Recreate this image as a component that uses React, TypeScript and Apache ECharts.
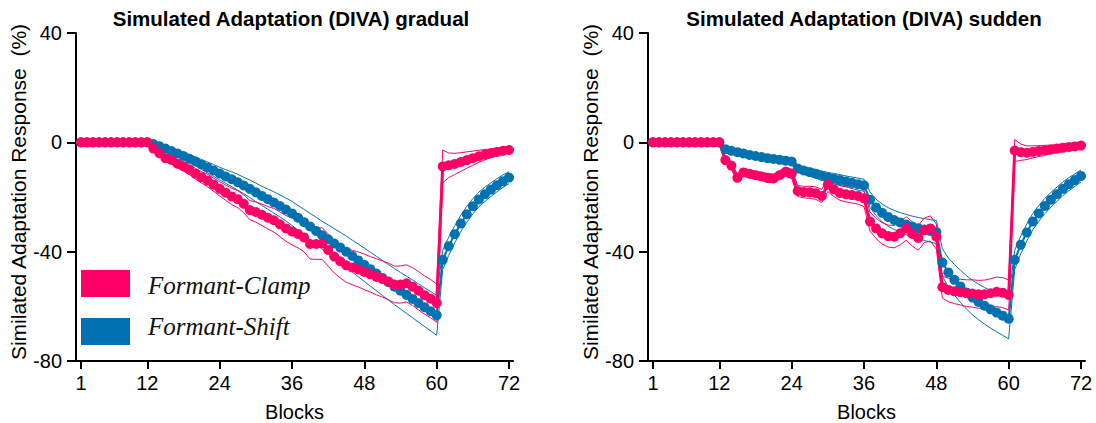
import { useEffect, useRef } from "react";
import * as echarts from "echarts";

const blocks: number[] = Array.from({ length: 72 }, (_, i) => i + 1);
const xTickValues = [1, 12, 24, 36, 48, 60, 72];
const titles = ["Simulated Adaptation (DIVA) gradual", "Simulated Adaptation (DIVA) sudden"];
const yAxisName = "Similated Adaptation Response  (%)";
const xAxisName = "Blocks";
const legendNames = ["Formant-Clamp", "Formant-Shift"];

const Z12 = [0, 0, 0, 0, 0, 0, 0, 0, 0, 0, 0, 0];

// gradual — Formant-Shift (blue) mean
const gradualShift = [
  ...Z12,
  -0.6, -1.4, -2.3, -3.2, -4.1, -5.0, -6.0, -7.0, -8.1, -9.2, -10.3, -11.4,
  -12.5, -13.5, -14.6, -15.8, -17.0, -18.3, -19.6, -20.8, -22.0, -23.3, -24.6, -26.0,
  -27.6, -29.2, -30.8, -32.4, -34.0, -35.5, -37.0, -38.5, -40.0, -41.6, -43.2, -44.8,
  -46.4, -48.0, -49.6, -51.2, -52.8, -54.3, -55.8, -57.3, -58.8, -60.3, -61.8, -63.3,
  -43.0, -38.0, -33.6, -29.7, -26.3, -23.4, -20.9, -19.0, -17.3, -15.7, -14.2, -12.9,
];
const gradualShiftSd = [
  ...Z12,
  0.3, 0.5, 0.7, 0.9, 1.1, 1.3, 1.5, 1.6, 1.8, 2.0, 2.2, 2.3,
  2.5, 2.7, 2.9, 3.0, 3.2, 3.4, 3.5, 3.7, 3.9, 4.0, 4.2, 4.4,
  4.5, 4.7, 4.8, 5.0, 5.1, 5.3, 5.4, 5.6, 5.7, 5.8, 6.0, 6.1,
  6.2, 6.3, 6.4, 6.5, 6.6, 6.7, 6.8, 6.9, 7.0, 7.1, 7.2, 7.3,
  3.5, 3.3, 3.1, 3.0, 2.9, 2.8, 2.7, 2.6, 2.5, 2.4, 2.3, 2.2,
];
// gradual — Formant-Clamp (pink) mean
const gradualClamp = [
  ...Z12,
  -2.3, -4.0, -5.8, -6.4, -7.8, -8.8, -10.0, -11.5, -12.8, -14.0, -15.5, -17.0,
  -18.4, -19.8, -20.8, -22.5, -24.8, -25.5, -26.5, -27.6, -28.5, -30.0, -31.5, -32.6,
  -33.5, -34.8, -37.2, -37.2, -37.0, -39.4, -41.8, -43.5, -45.0, -45.8, -46.5, -47.4,
  -48.3, -49.2, -50.0, -50.9, -52.0, -52.0, -51.6, -52.8, -54.3, -55.9, -57.2, -58.8,
  -8.8, -8.4, -7.9, -7.2, -6.5, -5.8, -5.1, -4.5, -4.0, -3.5, -3.1, -2.8,
];
const gradualClampSd = [
  ...Z12,
  0.8, 1.0, 1.2, 1.4, 1.5, 1.7, 1.8, 2.0, 2.1, 2.3, 2.4, 2.6,
  2.8, 3.0, 3.1, 3.3, 3.5, 3.7, 3.9, 4.1, 4.3, 4.5, 4.7, 4.9,
  5.1, 5.3, 5.5, 5.6, 5.8, 5.9, 6.0, 6.1, 6.2, 6.3, 6.4, 6.5,
  6.5, 6.6, 6.6, 6.7, 6.7, 6.8, 6.8, 6.9, 7.0, 7.0, 7.0, 7.0,
  6.0, 4.5, 3.9, 3.4, 3.0, 2.6, 2.2, 1.9, 1.6, 1.4, 1.2, 1.0,
];

// sudden — Formant-Shift (blue) mean
const suddenShift = [
  ...Z12,
  -2.5, -3.1, -3.6, -4.1, -4.6, -5.0, -5.4, -5.8, -6.1, -6.4, -6.7, -7.0,
  -9.6, -10.3, -10.9, -11.5, -12.2, -12.8, -13.3, -13.8, -14.3, -14.8, -15.3, -15.7,
  -21.0, -23.8, -25.8, -27.3, -28.4, -29.3, -30.1, -30.8, -31.4, -31.9, -32.4, -32.8,
  -44.0, -47.6, -50.3, -52.7, -54.9, -56.8, -58.4, -59.8, -61.1, -62.3, -63.4, -64.5,
  -43.0, -37.5, -33.0, -29.0, -26.0, -23.3, -21.0, -19.0, -17.0, -15.3, -13.8, -12.3,
];
const suddenShiftSd = [
  ...Z12,
  0.6, 0.7, 0.8, 0.8, 0.9, 0.9, 1.0, 1.0, 1.0, 1.1, 1.1, 1.1,
  1.3, 1.4, 1.5, 1.6, 1.7, 1.8, 1.9, 2.0, 2.0, 2.1, 2.2, 2.2,
  2.8, 3.0, 3.2, 3.4, 3.5, 3.6, 3.7, 3.8, 3.9, 4.0, 4.1, 4.2,
  5.0, 5.3, 5.6, 5.9, 6.1, 6.3, 6.5, 6.7, 6.9, 7.0, 7.2, 7.4,
  3.5, 3.3, 3.1, 3.0, 2.9, 2.8, 2.7, 2.6, 2.5, 2.4, 2.3, 2.2,
];
// sudden — Formant-Clamp (pink) mean
const suddenClamp = [
  ...Z12,
  -6.5, -8.5, -13.0, -11.0, -11.5, -12.0, -12.5, -13.0, -13.2, -12.0, -10.8, -11.5,
  -17.8, -18.2, -18.3, -18.6, -19.6, -15.5, -17.2, -18.5, -19.0, -19.3, -19.6, -20.5,
  -29.0, -31.5, -33.3, -34.3, -34.5, -33.3, -31.5, -33.5, -35.0, -32.2, -31.5, -34.5,
  -53.0, -54.0, -54.5, -54.8, -55.2, -55.3, -55.6, -55.6, -55.2, -54.7, -55.0, -55.8,
  -3.0, -3.6, -3.8, -3.5, -3.2, -2.9, -2.6, -2.3, -2.0, -1.7, -1.5, -1.2,
];
const suddenClampSd = [
  ...Z12,
  1.2, 1.3, 1.4, 1.4, 1.5, 1.5, 1.5, 1.6, 1.6, 1.6, 1.7, 1.7,
  2.0, 2.1, 2.2, 2.3, 2.4, 2.5, 2.6, 2.7, 2.8, 2.9, 3.0, 3.0,
  3.5, 3.7, 3.9, 4.0, 4.1, 4.2, 4.3, 4.4, 4.5, 4.5, 4.6, 4.6,
  4.0, 4.3, 4.5, 4.7, 4.9, 5.0, 5.1, 5.2, 5.3, 5.4, 5.5, 5.5,
  4.0, 3.0, 2.5, 2.2, 2.0, 1.8, 1.6, 1.5, 1.4, 1.3, 1.2, 1.1,
];

const PINK = "#FF0066";
const BLUE = "#0072B2";
const FONT = "Liberation Sans, Arial, sans-serif";

const pairs = (vals: number[]) => blocks.map((b, i) => [b, vals[i]]);
const offset = (vals: number[], sd: number[], sign: number) => blocks.map((b, i) => [b, vals[i] + sign * sd[i]]);

function panelSeries(idx: number, clamp: number[], clampSd: number[], shift: number[], shiftSd: number[]) {
  const env = (data: number[][], color: string) => ({
    type: "line",
    xAxisIndex: idx,
    yAxisIndex: idx,
    data,
    symbol: "none",
    lineStyle: { color, width: 1 },
    itemStyle: { color },
    silent: true,
  });
  return [
    env(offset(shift, shiftSd, 1), BLUE),
    env(offset(shift, shiftSd, -1), BLUE),
    {
      type: "line",
      name: legendNames[1],
      xAxisIndex: idx,
      yAxisIndex: idx,
      data: pairs(shift),
      symbol: "circle",
      symbolSize: 10,
      lineStyle: { color: BLUE, width: 2 },
      itemStyle: { color: BLUE },
    },
    env(offset(clamp, clampSd, 1), PINK),
    env(offset(clamp, clampSd, -1), PINK),
    {
      type: "line",
      name: legendNames[0],
      xAxisIndex: idx,
      yAxisIndex: idx,
      data: pairs(clamp),
      symbol: "circle",
      symbolSize: 10,
      lineStyle: { color: PINK, width: 3 },
      itemStyle: { color: PINK },
    },
  ];
}

function xAxisFor(idx: number) {
  return {
    type: "value",
    gridIndex: idx,
    min: 0.17,
    max: 72.66,
    name: xAxisName,
    nameLocation: "middle",
    nameGap: 41,
    nameTextStyle: { fontSize: 20, color: "#000", fontFamily: FONT },
    axisLine: { show: true, onZero: false, lineStyle: { color: "#000", width: 2 } },
    axisTick: { show: true, customValues: xTickValues, length: 8, lineStyle: { color: "#000", width: 2 } },
    axisLabel: { customValues: xTickValues, fontSize: 20, color: "#000", fontFamily: FONT, margin: 12 },
    splitLine: { show: false },
  };
}

function yAxisFor(idx: number) {
  return {
    type: "value",
    gridIndex: idx,
    min: -80,
    max: 40,
    interval: 40,
    name: yAxisName,
    nameLocation: "middle",
    nameRotate: 90,
    nameGap: 47,
    nameTextStyle: { fontSize: 21, color: "#000", fontFamily: FONT, padding: [0, 0, 0, 10] },
    axisLine: { show: true, onZero: false, lineStyle: { color: "#000", width: 2 } },
    axisTick: { show: true, length: 9, lineStyle: { color: "#000", width: 2 } },
    axisLabel: { fontSize: 20, color: "#000", fontFamily: FONT, margin: 14 },
    splitLine: { show: false },
  };
}

export default function App() {
  const ref = useRef<HTMLDivElement>(null);
  useEffect(() => {
    document.body.style.margin = "0";
    if (!ref.current) return;
    const chart = echarts.init(ref.current, undefined, { renderer: "svg" });
    const titleText = (text: string, x: number) => ({
      type: "text",
      x,
      y: 18,
      style: {
        text,
        align: "center",
        verticalAlign: "middle",
        fontSize: 20.5,
        fontWeight: "bold",
        fontFamily: FONT,
        fill: "#000",
      },
    });
    const legendText = (text: string, y: number) => ({
      type: "text",
      x: 148,
      y,
      z: 100,
      style: {
        text,
        verticalAlign: "middle",
        fontSize: 25,
        fontStyle: "italic",
        fontFamily: "Liberation Serif, serif",
        fill: "#111",
      },
    });
    chart.setOption({
      animation: false,
      backgroundColor: "#fff",
      grid: [
        { left: 76, top: 33, width: 437, height: 328, outerBoundsMode: "none", containLabel: false },
        { left: 648, top: 33, width: 437, height: 328, outerBoundsMode: "none", containLabel: false },
      ],
      xAxis: [xAxisFor(0), xAxisFor(1)],
      yAxis: [yAxisFor(0), yAxisFor(1)],
      series: [
        ...panelSeries(0, gradualClamp, gradualClampSd, gradualShift, gradualShiftSd),
        ...panelSeries(1, suddenClamp, suddenClampSd, suddenShift, suddenShiftSd),
      ],
      graphic: [
        titleText(titles[0], 291),
        titleText(titles[1], 864),
        { type: "rect", shape: { x: 81, y: 270, width: 49, height: 27 }, style: { fill: PINK }, z: 100 },
        { type: "rect", shape: { x: 81, y: 318, width: 49, height: 27 }, style: { fill: BLUE }, z: 100 },
        legendText(legendNames[0], 285),
        legendText(legendNames[1], 326),
      ],
    });
    return () => chart.dispose();
  }, []);
  return <div ref={ref} style={{ width: 1096, height: 423 }} />;
}
